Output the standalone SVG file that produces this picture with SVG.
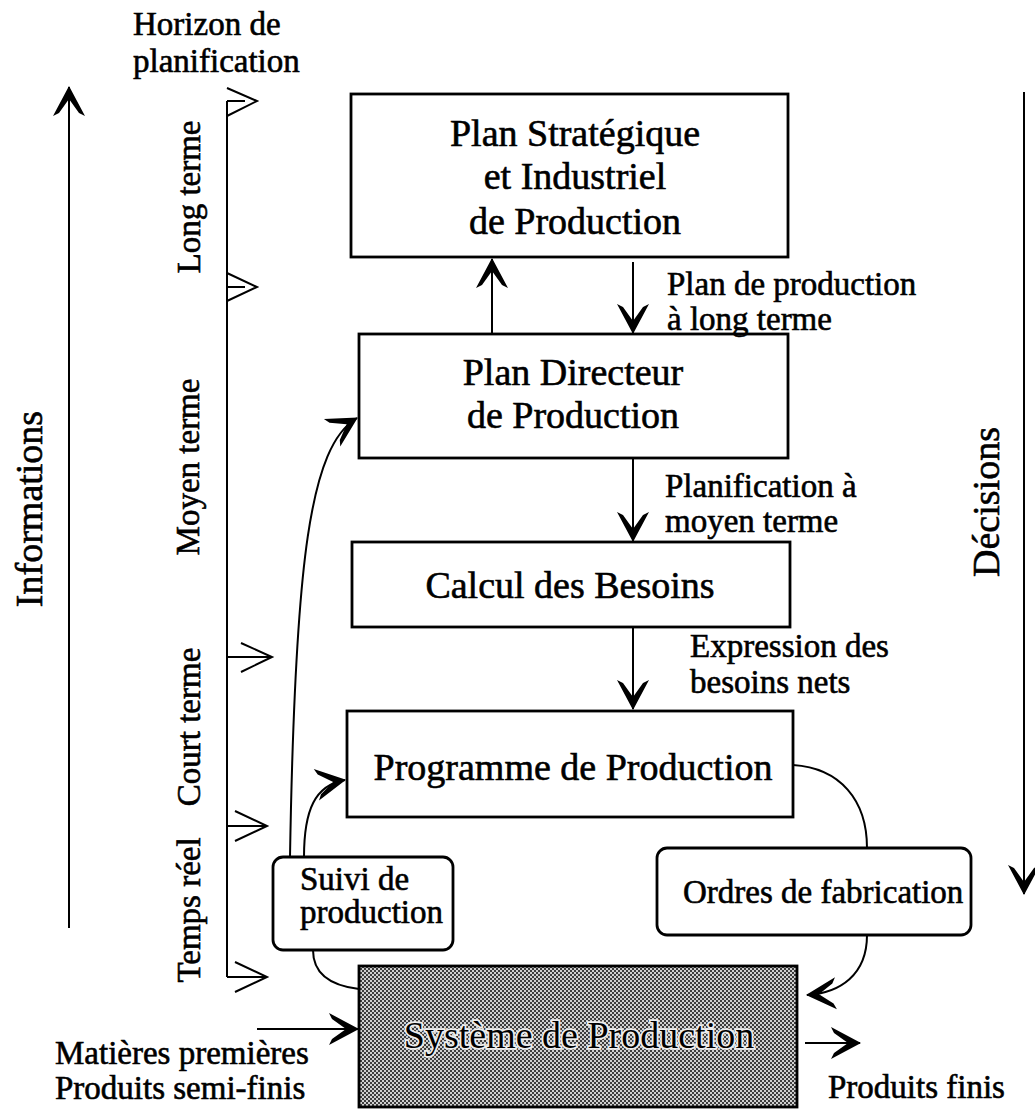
<svg xmlns="http://www.w3.org/2000/svg" width="1035" height="1109" viewBox="0 0 1035 1109">
<style>
.box{fill:#fff;stroke:#000;stroke-width:2.8}
.t{font-family:"Liberation Serif","Times New Roman",serif;fill:#000;stroke:#000;stroke-width:0.6}
.big{font-size:38px;text-anchor:middle}
.lab{font-size:33px}
.side{font-size:33px;text-anchor:middle}
.axis{font-size:38px;text-anchor:middle}
.ln{fill:none;stroke:#000;stroke-width:2}
.halo{paint-order:stroke;stroke:#eee;stroke-width:3.5}
</style>
<defs>
<marker id="ah" markerUnits="userSpaceOnUse" viewBox="-32 -20 34 40" markerWidth="34" markerHeight="40" refX="0" refY="0" orient="auto" overflow="visible">
<path d="M1,0 L-29,-16 L-26,-10 L-12,0 L-26,10 L-29,16 Z" fill="#000"/>
</marker>
<pattern id="halftone" width="4" height="4" patternUnits="userSpaceOnUse">
<rect width="4" height="4" fill="#cfcfcf"/>
<rect width="2" height="2" fill="#3c3c3c"/>
<rect x="2" y="2" width="2" height="2" fill="#3c3c3c"/>
</pattern>
</defs>
<rect width="1035" height="1109" fill="#fff"/>

<g id="horizon">
<text class="t lab" x="133" y="35">Horizon de</text>
<text class="t lab" x="133" y="72">planification</text>
<line class="ln" x1="227" y1="101" x2="227" y2="977"/>
<polyline class="ln" points="227,88 257,101 227,116"/>
<line class="ln" x1="227" y1="101" x2="245" y2="101"/>
<polyline class="ln" points="227,273 257,287 227,301"/>
<line class="ln" x1="227" y1="287" x2="245" y2="287"/>
<line class="ln" x1="227" y1="657" x2="272" y2="657"/>
<polyline class="ln" points="241,643 272,657 241,672"/>
<line class="ln" x1="227" y1="826" x2="267" y2="826"/>
<polyline class="ln" points="235,811 267,826 235,841"/>
<line class="ln" x1="227" y1="977" x2="267" y2="977"/>
<polyline class="ln" points="235,962 267,977 235,992"/>
<text class="t side" transform="translate(200,197) rotate(-90)">Long terme</text>
<text class="t side" transform="translate(199,467) rotate(-90)">Moyen terme</text>
<text class="t side" transform="translate(200,727) rotate(-90)">Court terme</text>
<text class="t side" transform="translate(200,910) rotate(-90)">Temps réel</text>
</g>

<g id="informations">
<line class="ln" x1="69" y1="928" x2="69" y2="87" marker-end="url(#ah)"/>
<text class="t axis" transform="translate(42,509) rotate(-90)">Informations</text>
</g>

<g id="decisions">
<line class="ln" x1="1024" y1="92" x2="1024" y2="894" marker-end="url(#ah)"/>
<text class="t axis" transform="translate(999,502) rotate(-90)">Décisions</text>
</g>

<g id="connectors">
<line class="ln" x1="492" y1="334" x2="492" y2="259" marker-end="url(#ah)"/>
<line class="ln" x1="633" y1="262" x2="633" y2="333" marker-end="url(#ah)"/>
<line class="ln" x1="633" y1="458" x2="633" y2="541" marker-end="url(#ah)"/>
<line class="ln" x1="633" y1="627" x2="633" y2="709" marker-end="url(#ah)"/>
<path class="ln" d="M290,857 C295,560 310,446 357,418" marker-end="url(#ah)"/>
<path class="ln" d="M304,857 C304,810 315,785 345,780" marker-end="url(#ah)"/>
<path class="ln" d="M359,989 C325,985 313,970 313,950"/>
<path class="ln" d="M793,765 C840,768 867,800 867,848"/>
<path class="ln" d="M867,935 C867,975 840,993 807,995" marker-end="url(#ah)"/>
<line class="ln" x1="257" y1="1029" x2="358" y2="1029" marker-end="url(#ah)"/>
<line class="ln" x1="805" y1="1043" x2="860" y2="1043" marker-end="url(#ah)"/>
</g>

<g id="plan-strategique">
<rect class="box" x="351" y="94" width="437" height="163"/>
<text class="t big" x="575" y="146">Plan Stratégique</text>
<text class="t big" x="575" y="189">et Industriel</text>
<text class="t big" x="575" y="234">de Production</text>
</g>

<g id="plan-directeur">
<rect class="box" x="359" y="334" width="429" height="124"/>
<text class="t big" x="573" y="385">Plan Directeur</text>
<text class="t big" x="573" y="428">de Production</text>
</g>

<g id="calcul-besoins">
<rect class="box" x="352" y="542" width="438" height="85"/>
<text class="t big" x="570" y="598">Calcul des Besoins</text>
</g>

<g id="programme">
<rect class="box" x="347" y="711" width="446" height="106"/>
<text class="t big" x="573" y="780">Programme de Production</text>
</g>

<g id="systeme">
<rect x="359" y="966" width="438" height="141" fill="url(#halftone)" stroke="#000" stroke-width="2.8"/>
<text class="t big halo" x="579" y="1048">Système de Production</text>
</g>

<g id="suivi">
<rect class="box" x="273" y="857" width="180" height="93" rx="10"/>
<text class="t lab" x="300" y="890">Suivi de</text>
<text class="t lab" x="300" y="923">production</text>
</g>

<g id="ordres">
<rect class="box" x="657" y="848" width="314" height="87" rx="10"/>
<text class="t lab" x="683" y="903">Ordres de fabrication</text>
</g>

<g id="labels">
<text class="t lab" x="667" y="295">Plan de production</text>
<text class="t lab" x="667" y="330">à long terme</text>
<text class="t lab" x="665" y="497">Planification à</text>
<text class="t lab" x="665" y="532">moyen terme</text>
<text class="t lab" x="690" y="657">Expression des</text>
<text class="t lab" x="690" y="693">besoins nets</text>
<text class="t lab" x="55" y="1064">Matières premières</text>
<text class="t lab" x="55" y="1099">Produits semi-finis</text>
<text class="t lab" x="828" y="1098">Produits finis</text>
</g>
</svg>
